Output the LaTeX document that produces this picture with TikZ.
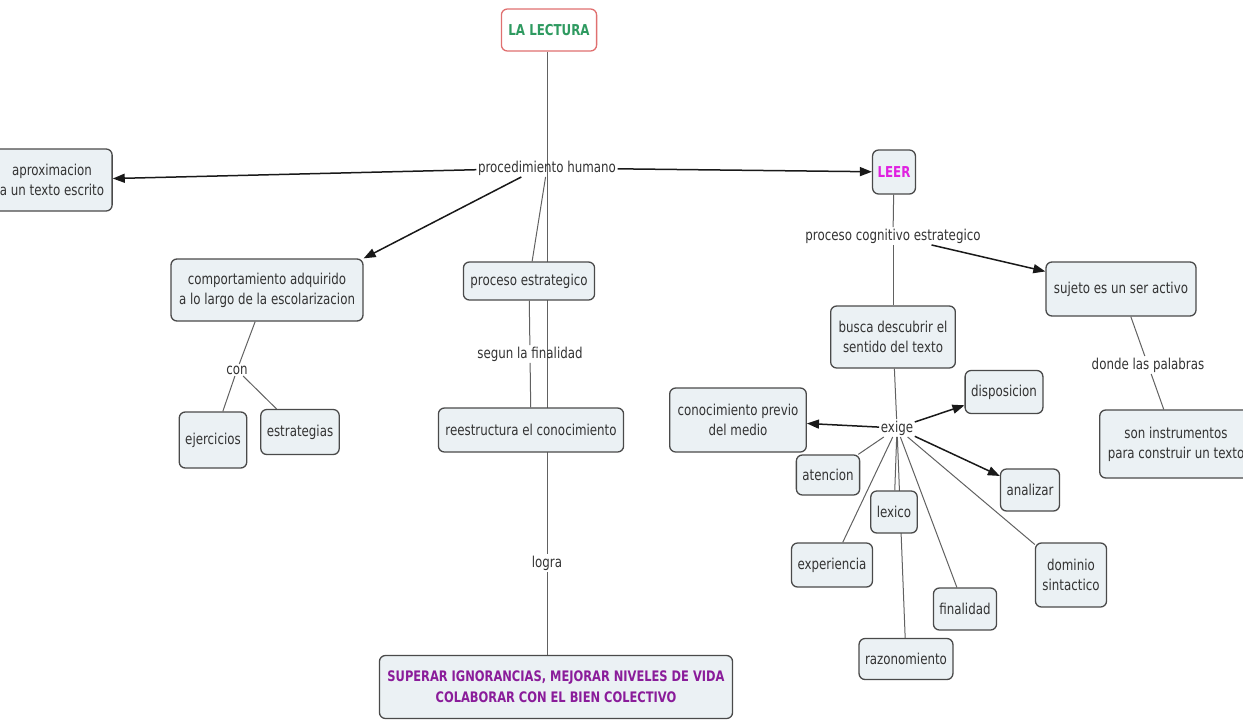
\documentclass[tikz,border=0pt]{standalone}
\usepackage{fontspec}
\setmainfont{DejaVu Sans}[FakeStretch=0.79]
\usetikzlibrary{arrows.meta,backgrounds}
\definecolor{boxfill}{HTML}{EBF1F4}
\definecolor{boxline}{HTML}{4A4A4A}
\definecolor{txt}{HTML}{333333}
\definecolor{lectgreen}{HTML}{2E9A60}
\definecolor{lectred}{HTML}{E07070}
\definecolor{leermag}{HTML}{E020E0}
\definecolor{suppurp}{HTML}{8A1C9A}
\begin{document}
\begin{tikzpicture}[x=1pt,y=-1pt,
  every node/.style={font=\fontsize{15}{20}\selectfont, text=txt},
  box/.style={draw=boxline, line width=1.3pt, rounded corners=6pt, fill=boxfill,
    align=center, inner xsep=8pt, inner ysep=6pt, minimum height=40pt},
  twoline/.style={minimum height=62pt},
  lnk/.style={inner sep=1.5pt},
  con/.style={draw=black!62, line width=1pt},
  arr/.style={draw=black!90, line width=1.5pt, -{Triangle[length=12pt,width=9pt]}}
]
\useasboundingbox (0,0) rectangle (1243,721);

% concepts
\node[box, fill=white, draw=lectred, text=lectgreen, font=\fontsize{15}{20}\selectfont\bfseries, minimum height=42pt, inner xsep=7pt] (lect) at (549,30) {LA LECTURA};
\node[box, twoline] (aprox) at (52,180) {aproximacion\\a un texto escrito};
\node[box, text=leermag, font=\fontsize{15}{20}\selectfont\bfseries, minimum height=44pt, inner xsep=5pt] (leer) at (894,172) {LEER};
\node[box, twoline] (comp) at (267,290) {comportamiento adquirido\\a lo largo de la escolarizacion};
\node[box, minimum height=38pt, inner xsep=7pt] (pe) at (529,281) {proceso estrategico};
\node[box, minimum height=44pt, inner xsep=7pt] (reest) at (531,430) {reestructura el conocimiento};
\node[box, text=suppurp, font=\fontsize{14.5}{21}\selectfont\bfseries, minimum height=63pt, inner xsep=8pt] (sup) at (556,687) {SUPERAR IGNORANCIAS, MEJORAR NIVELES DE VIDA\\COLABORAR CON EL BIEN COLECTIVO};
\node[box, minimum height=56pt, inner xsep=6pt] (ejer) at (213,440) {ejercicios};
\node[box, minimum height=45pt, inner xsep=6pt] (estr) at (300,432) {estrategias};
\node[box, minimum height=54pt] (suj) at (1121,289) {sujeto es un ser activo};
\node[box, twoline] (busca) at (893,337) {busca descubrir el\\sentido del texto};
\node[box, minimum height=68pt] (son) at (1176,444) {son instrumentos\\para construir un texto};
\node[box, minimum height=43pt, inner xsep=6pt] (disp) at (1004,392) {disposicion};
\node[box, minimum height=64pt, inner xsep=8pt] (prev) at (738,420) {conocimiento previo\\del medio};
\node[box, inner xsep=6pt] (aten) at (828,475) {atencion};
\node[box, minimum height=42pt, inner xsep=6pt] (anal) at (1030,490) {analizar};
\node[box, minimum height=42pt, inner xsep=6pt] (lex) at (894,512) {lexico};
\node[box, minimum height=44pt, inner xsep=6pt] (exp) at (832,565) {experiencia};
\node[box, minimum height=64pt, inner xsep=7pt] (dom) at (1071,575) {dominio\\sintactico};
\node[box, minimum height=42pt, inner xsep=6pt] (fin) at (965,609) {finalidad};
\node[box, minimum height=41pt, inner xsep=6pt] (raz) at (906,659) {razonomiento};

% linking phrases
\node[lnk] (ph) at (547,168) {procedimiento humano};
\node[lnk] (seg) at (530,354) {segun la finalidad};
\node[lnk] (logra) at (547,563) {logra};
\node[lnk] (con) at (237,370) {con};
\node[lnk] (pce) at (893,236) {proceso cognitivo estrategico};
\node[lnk] (donde) at (1148,365) {donde las palabras};
\node[lnk] (exige) at (897,428) {exige};

\begin{pgfonlayer}{background}
  \draw[con] (lect.south -| logra) -- (logra.north);
  \draw[con] (logra) -- (sup.north -| logra);
  \draw[arr] (ph) -- (aprox);
  \draw[arr] (ph) -- (leer);
  \draw[arr] (ph.south west) ++(45,0) -- (comp.north east);
  \draw[con] (ph) -- (pe);
  \draw[con] (pe) -- (seg);
  \draw[con] (seg) -- (reest);
  \draw[con] (comp) -- (con);
  \draw[con] (con) -- (ejer);
  \draw[con] (con) -- (estr);
  \draw[con] (leer) -- (pce);
  \draw[arr] (pce) -- (suj);
  \draw[con] (pce) -- (busca);
  \draw[con] (busca) -- (exige);
  \draw[arr] (exige) -- (prev);
  \draw[arr] (exige) -- (disp);
  \draw[arr] (exige) -- (anal);
  \draw[con] (exige) -- (aten);
  \draw[con] (exige) -- (lex);
  \draw[con] (exige) -- (raz);
  \draw[con] (exige) -- (exp);
  \draw[con] (exige) -- (fin);
  \draw[con] (exige) -- (dom);
  \draw[con] (suj) -- (donde);
  \draw[con] (donde) -- (son);
\end{pgfonlayer}
\end{tikzpicture}
\end{document}
